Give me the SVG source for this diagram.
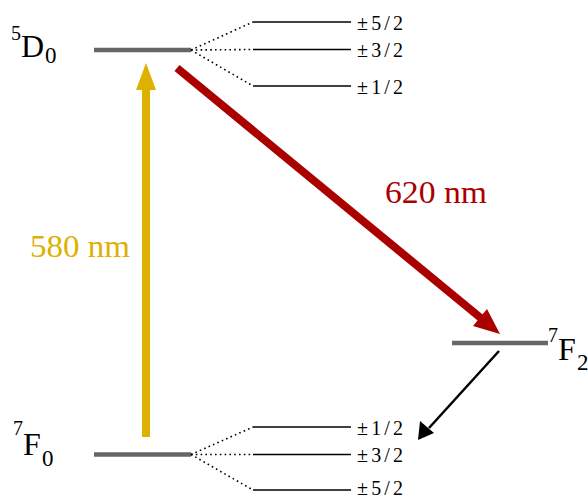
<svg xmlns="http://www.w3.org/2000/svg" width="588" height="498" viewBox="0 0 588 498">
<style>
  .lvl { stroke: #666666; stroke-width: 4.5; fill: none; }
  .sub { stroke: #000000; stroke-width: 1.5; fill: none; }
  .dot { stroke: #000000; stroke-width: 1.6; fill: none; stroke-dasharray: 1.6 3.2; }
  .t { font-family: "Liberation Serif", "DejaVu Serif", serif; fill: #000000; }
  .m { font-size: 20px; }
  .big { font-size: 32px; }
  .sup { font-size: 20px; }
  .sb { font-size: 23px; }
  .nm { font-size: 31px; }
</style>
<rect width="588" height="498" fill="#ffffff"/>

<g id="D0">
  <line class="lvl" x1="94" y1="50" x2="191" y2="50"/>
  <text class="t sup" x="11" y="40">5</text>
  <text class="t big" x="21" y="57">D</text>
  <text class="t sb" x="45" y="63">0</text>
</g>
<g id="D0-sublevels">
  <line class="dot" x1="191" y1="50" x2="253" y2="22"/>
  <line class="dot" x1="191" y1="50" x2="253" y2="49.5"/>
  <line class="dot" x1="191" y1="50" x2="253" y2="86"/>
  <line class="sub" x1="253" y1="22" x2="351" y2="22"/>
  <line class="sub" x1="253" y1="49.5" x2="351" y2="49.5"/>
  <line class="sub" x1="253" y1="86" x2="351" y2="86"/>
  <text class="t m" x="357" y="29.5" textLength="46" lengthAdjust="spacing">±5/2</text>
  <text class="t m" x="357" y="57" textLength="46" lengthAdjust="spacing">±3/2</text>
  <text class="t m" x="357" y="93.5" textLength="46" lengthAdjust="spacing">±1/2</text>
</g>

<g id="F0">
  <line class="lvl" x1="94" y1="454.5" x2="191" y2="454.5"/>
  <text class="t sup" x="13" y="435">7</text>
  <text class="t big" x="23" y="455">F</text>
  <text class="t sb" x="42" y="466">0</text>
</g>
<g id="F0-sublevels">
  <line class="dot" x1="191" y1="454.5" x2="253" y2="427"/>
  <line class="dot" x1="191" y1="454.5" x2="253" y2="454.5"/>
  <line class="dot" x1="191" y1="454.5" x2="253" y2="490"/>
  <line class="sub" x1="253" y1="427" x2="351" y2="427"/>
  <line class="sub" x1="253" y1="454.5" x2="351" y2="454.5"/>
  <line class="sub" x1="253" y1="490" x2="351" y2="490"/>
  <text class="t m" x="357" y="434.5" textLength="46" lengthAdjust="spacing">±1/2</text>
  <text class="t m" x="357" y="462" textLength="46" lengthAdjust="spacing">±3/2</text>
  <text class="t m" x="357" y="494.5" textLength="46" lengthAdjust="spacing">±5/2</text>
</g>

<g id="F2">
  <line class="lvl" x1="452" y1="343" x2="548" y2="343"/>
  <text class="t sup" x="548" y="342">7</text>
  <text class="t big" x="558" y="360">F</text>
  <text class="t sb" x="577" y="370">2</text>
</g>

<g id="connectors">
  <g id="abs580">
    <rect x="142" y="88" width="8" height="349" fill="#deb100"/>
    <polygon points="146,63 156,90 136,90" fill="#deb100"/>
  </g>
  <g id="em620">
    <line x1="177" y1="68" x2="482" y2="319" stroke="#aa0000" stroke-width="8"/>
    <polygon points="500,334 473,326 487,309" fill="#aa0000"/>
  </g>
  <g id="relax">
    <line x1="499" y1="351" x2="429" y2="428" stroke="#000000" stroke-width="2.5"/>
    <polygon points="418,440 420,421 434,433" fill="#000000"/>
  </g>
</g>

<text class="t nm" x="30" y="257" style="fill:#deb100" textLength="100" lengthAdjust="spacingAndGlyphs">580 nm</text>
<text class="t nm" x="385" y="203" style="fill:#aa0000" textLength="102" lengthAdjust="spacingAndGlyphs">620 nm</text>
</svg>
